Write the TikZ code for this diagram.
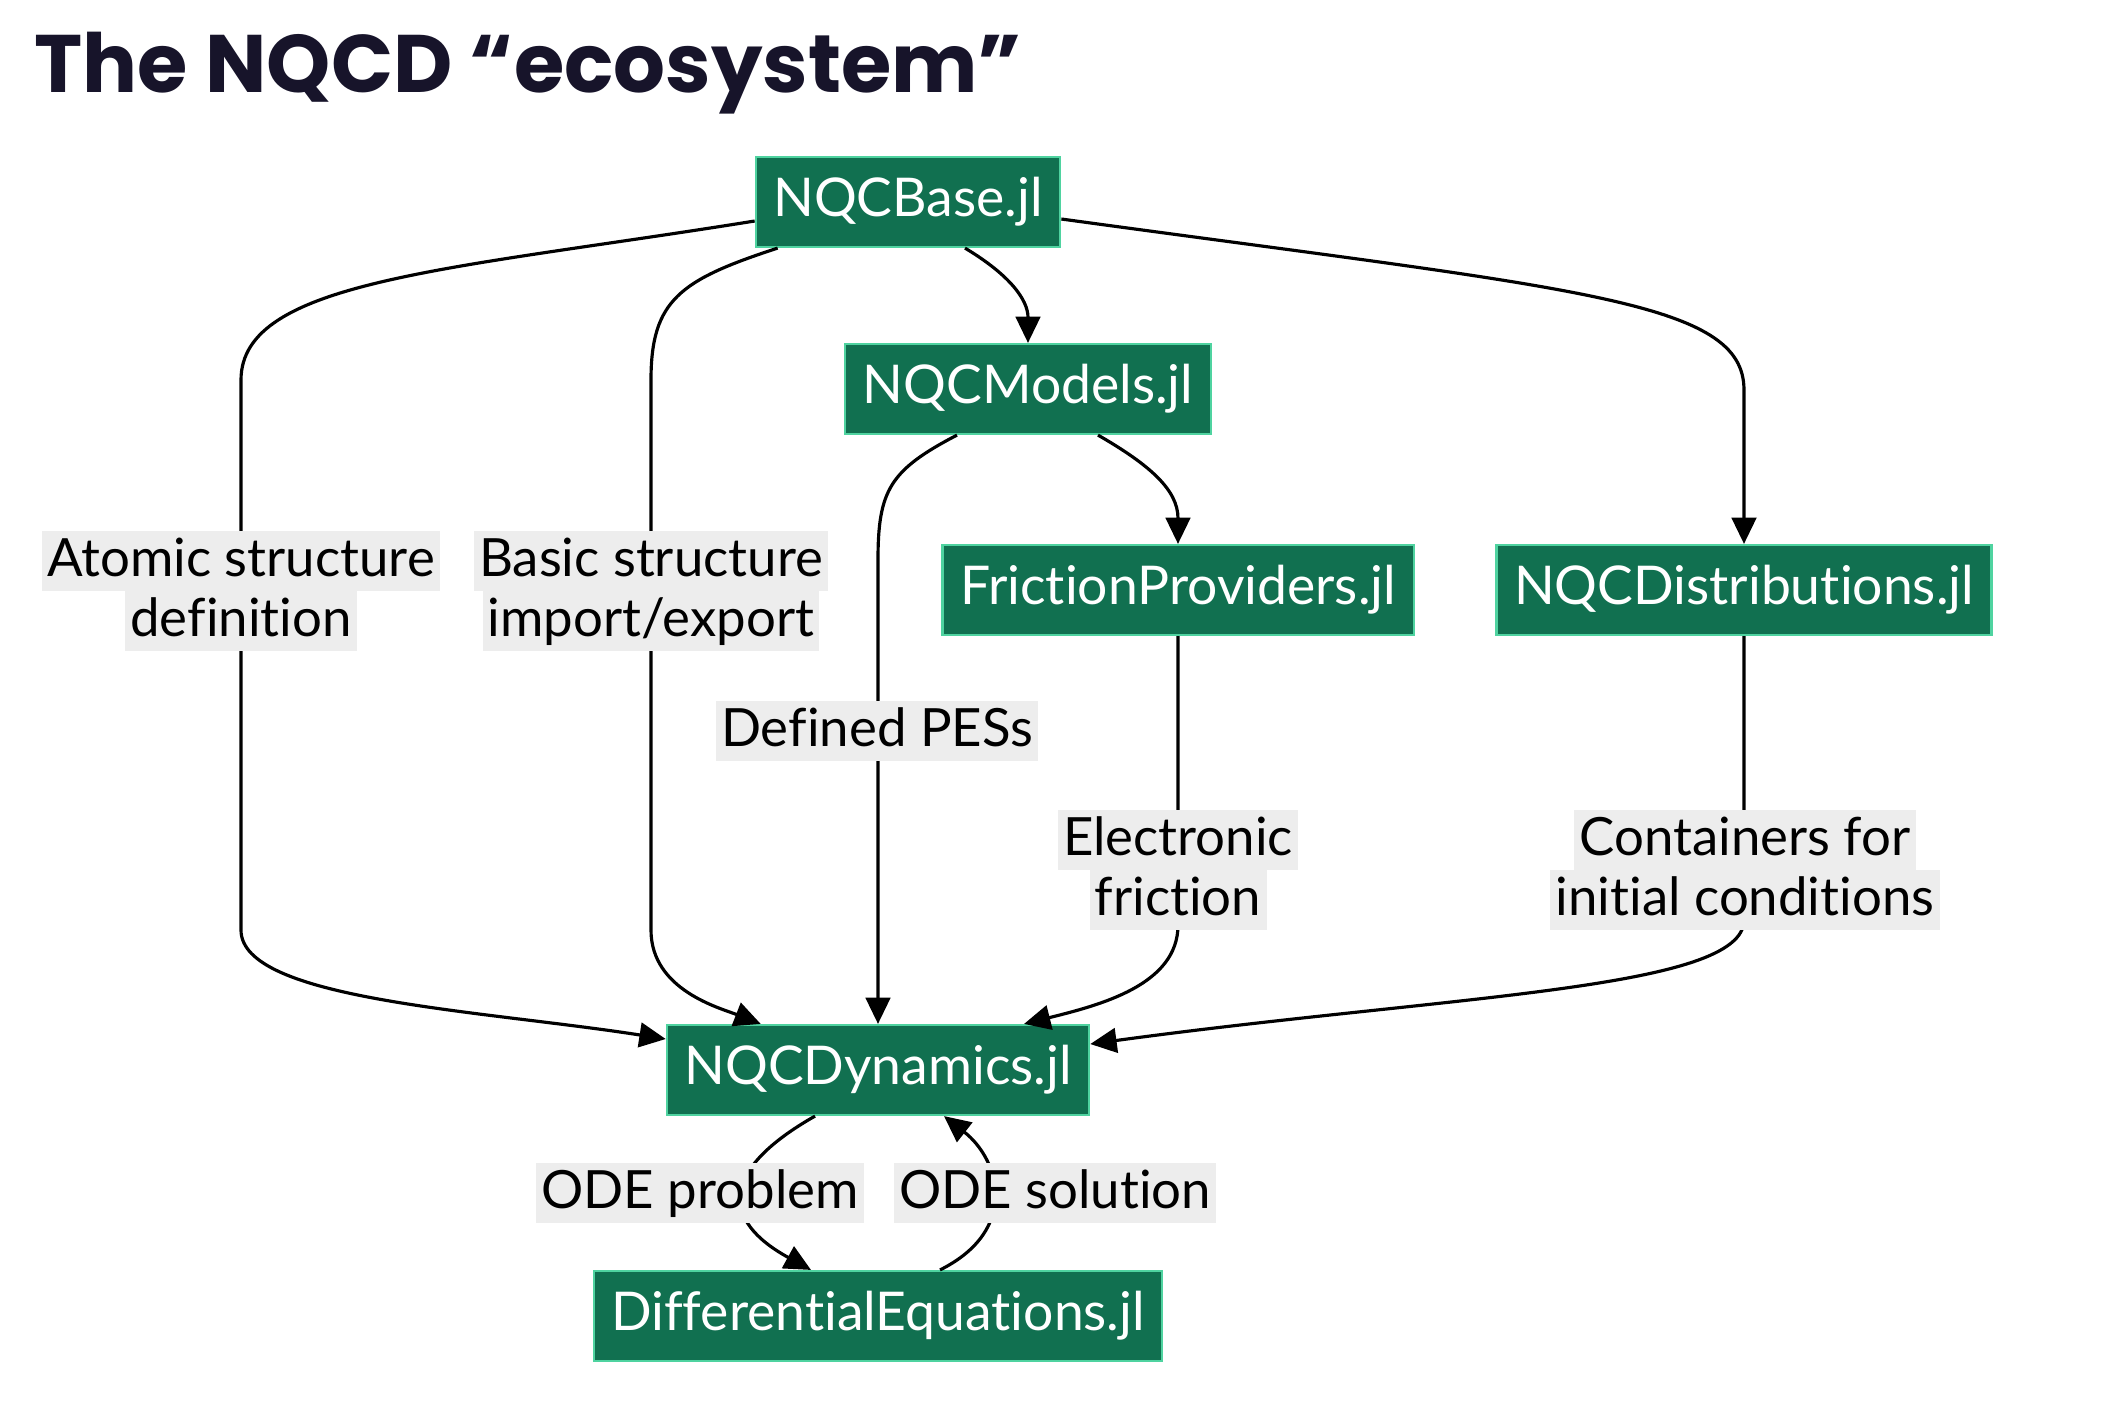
\documentclass[tikz,border=0pt]{standalone}
\usepackage{fontspec}
\setmainfont{Lato}[RawFeature={-liga;-clig;-dlig;-calt;-rlig;-ccmp;-hlig}]
\newfontfamily\titlefont{Poppins}
\usepackage{tikz}
\usetikzlibrary{arrows.meta, calc}
\definecolor{pkggreen}{HTML}{117050}
\definecolor{pkgborder}{HTML}{4FD3A0}
\definecolor{lblgray}{HTML}{EDEDED}
\definecolor{titleink}{HTML}{17142A}
\setlength{\fboxsep}{0pt}
\newcommand{\lblline}[1]{\colorbox{lblgray}{\rule[-4pt]{0pt}{17pt}\kern1.5pt#1\kern1.5pt}}

\begin{document}
\begin{tikzpicture}[x=0.01cm,y=-0.01cm,
  pkg/.style={fill=pkggreen,draw=pkgborder,line width=0.6pt,text=white,font=\fontsize{15.2}{17}\selectfont,minimum height=0.9cm,inner xsep=5pt,inner ysep=0pt},
  lbl/.style={inner sep=0pt,align=center,font=\fontsize{15}{17}\selectfont},
  edge/.style={line width=0.9pt,-{Triangle[length=7.5pt,width=7pt]}}]

\useasboundingbox (0,0) rectangle (2126,1426);

% Title
\node[anchor=base west,inner sep=0pt,text=titleink,font=\titlefont\bfseries\fontsize{23.2}{28}\selectfont] (title) at (34,92) {The NQCD “ecosystem”};

% Packages
\node[pkg] (base) at (908,202) {NQCBase.jl};
\node[pkg] (models) at (1028,389) {NQCModels.jl};
\node[pkg] (friction) at (1178,590) {FrictionProviders.jl};
\node[pkg] (distrib) at (1744,590) {NQCDistributions.jl};
\node[pkg] (dynamics) at (878,1070) {NQCDynamics.jl};
\node[pkg] (diffeq) at (878,1316) {DifferentialEquations.jl};

% Edges out of NQCBase.jl
\draw[edge] ($(base.west)+(0,19)$) .. controls (450,270) and (241,280) .. (241,380) -- (241,930) .. controls (241,1000) and (480,1010) .. ($(dynamics.west)+(0,-31)$);
\draw[edge] ($(base.south west)+(23,0)$) .. controls (680,280) and (651,300) .. (651,380) -- (651,930) .. controls (651,990) and (720,1008) .. ($(dynamics.north west)+(95,0)$);
\draw[edge] ($(base.south)+(57,0)$) .. controls (1010,275) and (1028,300) .. (models.north);
\draw[edge] ($(base.east)+(0,17)$) .. controls (1580,290) and (1744,300) .. (1744,390) -- (distrib.north);

% Edges into NQCDynamics.jl
\draw[edge] ($(models.south)+(-71,0)$) .. controls (890,470) and (878,490) .. (878,560) -- (dynamics.north);
\draw[edge] ($(models.south)+(70,0)$) .. controls (1150,465) and (1178,490) .. (friction.north);
\draw[edge] (friction.south) -- (1178,925) .. controls (1178,985) and (1100,1005) .. ($(dynamics.north)+(146,0)$);
\draw[edge] (distrib.south) -- (1744,920) .. controls (1744,990) and (1450,995) .. ($(dynamics.east)+(0,-26)$);

% ODE loop
\draw[edge] ($(dynamics.south)+(-63,0)$) .. controls (720,1170) and (720,1220) .. ($(diffeq.north)+(-67,0)$);
\draw[edge] ($(diffeq.north)+(62,0)$) .. controls (1020,1230) and (1000,1160) .. ($(dynamics.south)+(66,0)$);

% Edge labels
\node[lbl] (atomic) at (241,591) {\lblline{Atomic structure}\\\lblline{definition}};
\node[lbl] (basic) at (651,591) {\lblline{Basic structure}\\\lblline{import/export}};
\node[lbl] (pes) at (877,731) {\lblline{Defined PESs}};
\node[lbl] (elfric) at (1178,870) {\lblline{Electronic}\\\lblline{friction}};
\node[lbl] (initcond) at (1745,870) {\lblline{Containers for}\\\lblline{initial conditions}};
\node[lbl] (odeprob) at (700,1193) {\lblline{ODE problem}};
\node[lbl] (odesol) at (1055,1193) {\lblline{ODE solution}};

\end{tikzpicture}
\end{document}
